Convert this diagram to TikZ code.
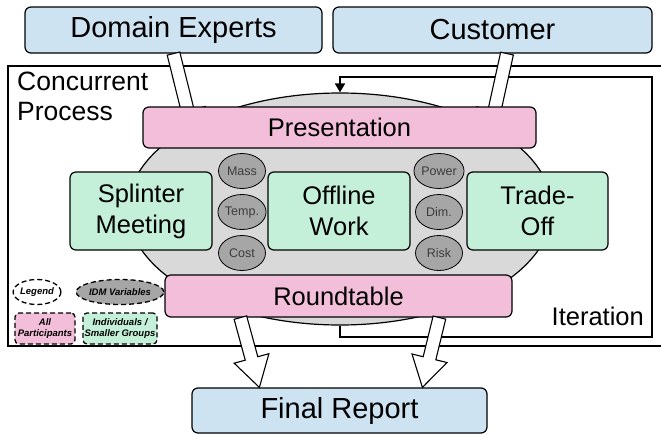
\documentclass[tikz,border=0pt]{standalone}
\usepackage{fontspec}
\setmainfont{Liberation Sans}
\usetikzlibrary{calc,arrows.meta,shapes.geometric}

\definecolor{boxblue}{RGB}{206,227,242}
\definecolor{boxpink}{RGB}{242,190,218}
\definecolor{boxgreen}{RGB}{196,240,218}
\definecolor{poolgray}{RGB}{217,217,217}
\definecolor{vargray}{RGB}{166,166,166}
\definecolor{vartext}{RGB}{60,60,60}

% hollow block arrow from #1 to #2 (tip at #2)
\newcommand\blockarrow[2]{%
  \path ($(#2)!30pt!(#1)$) coordinate (ba-h);
  \draw[blockarr]
    ($(#1)!6.5pt!90:(#2)$) -- ($(ba-h)!6.5pt!90:(#2)$) --
    ($(ba-h)!18pt!90:(#2)$) -- (#2) --
    ($(ba-h)!18pt!-90:(#2)$) -- ($(ba-h)!6.5pt!-90:(#2)$) --
    ($(#1)!6.5pt!-90:(#2)$) -- cycle;}

\tikzset{
  rbox/.style={draw=black, line width=1.2pt, rounded corners=6pt,
    minimum width=#1, inner sep=0pt, align=center},
  bigtxt/.style={font=\fontsize{29}{34}\selectfont},
  midtxt/.style={font=\fontsize{25.5}{31}\selectfont},
  varell/.style={ellipse, draw=black, line width=0.8pt, fill=vargray,
    minimum width=47pt, minimum height=35pt, inner sep=0pt,
    text=vartext, font=\fontsize{12.5}{14}\selectfont},
  legtxt/.style={font=\fontsize{9.5}{11}\selectfont\bfseries\itshape, align=center,
    inner sep=0pt},
  legdash/.style={draw=black, line width=1.3pt, dash pattern=on 5pt off 3pt},
  blockarr/.style={draw=black, line width=1.1pt, fill=white, line join=miter},
  framepen/.style={draw=black, line width=1.4pt},
  looppen/.style={draw=black, line width=2pt, -{Triangle[width=10pt,length=9pt]}},
}

\begin{document}
\begin{tikzpicture}[x=1pt, y=-1pt]
\useasboundingbox (0,0) rectangle (661,434);
\fill[white] (0,0) rectangle (661,434);

% outer frame of the concurrent process (open to the right)
\draw[framepen] (661,66) -- (8,66) -- (8,346) -- (661,346);
\node[anchor=north west, inner sep=0pt, align=left,
      font=\fontsize{26.5}{30}\selectfont] (cp) at (17,72) {Concurrent\\Process};

% central pool
\node[ellipse, draw=black, line width=1.2pt, fill=poolgray,
      minimum width=424pt, minimum height=232pt] (ell) at (340,209) {};

% iteration loop
\draw[looppen] (ell.south) -- ++(0,11) -| (652,77) -| (ell.north);
\node[anchor=base east, inner sep=0pt, font=\fontsize{25.5}{30}\selectfont]
  (it) at (644,325) {Iteration};

% stakeholders and report
\node[rbox=297pt, minimum height=46pt, fill=boxblue, bigtxt] (dom) at (173.5,30) {Domain Experts};
\node[rbox=319pt, minimum height=46pt, fill=boxblue, bigtxt] (cus) at (492.5,30) {Customer};
\node[rbox=295pt, minimum height=45pt, fill=boxblue, bigtxt] (fin) at (339.5,410.5) {Final Report};

% inputs into the presentation
\coordinate (d1) at (dom.south);
\coordinate (c1) at ($(cus.south)+(14.5,0)$);
\coordinate (p1) at (195,140);
\coordinate (p2) at (488,140);
\blockarrow{d1}{p1}
\blockarrow{c1}{p2}

% plenary sessions
\node[rbox=393pt, minimum height=41pt, fill=boxpink, midtxt] (pres) at (339.5,127.5) {Presentation};
\node[rbox=347pt, minimum height=42pt, fill=boxpink, midtxt] (rt) at (338.5,296) {Roundtable};

% outputs to the final report
\coordinate (r1) at ($(rt.south west)+(76,0)$);
\coordinate (r2) at ($(rt.south west)+(275,0)$);
\coordinate (f1) at ($(fin.north west)+(68,0)$);
\coordinate (f2) at ($(fin.north west)+(231,0)$);
\blockarrow{r1}{f1}
\blockarrow{r2}{f2}

% group work
\node[rbox=142pt, minimum height=78pt, fill=boxgreen, midtxt] (spl) at (141,211) {Splinter\\Meeting};
\node[rbox=142pt, minimum height=78pt, fill=boxgreen, midtxt] (off) at (339,211) {Offline\\Work};
\node[rbox=141pt, minimum height=78pt, fill=boxgreen, midtxt] (trd) at (537.5,211) {Trade-\\Off};

% design variables
\node[varell] (mass)  at (242,171) {Mass};
\node[varell] (temp)  at (242,212) {Temp.};
\node[varell] (cost)  at (242,253) {Cost};
\node[varell] (power) at (439,171) {Power};
\node[varell] (dim)   at (439,212) {Dim.};
\node[varell] (risk)  at (439,253) {Risk};

% legend
\node[ellipse, legdash, fill=white, minimum width=44pt, minimum height=25pt, legtxt]
  (lg) at (37,292) {Legend};
\node[ellipse, legdash, fill=vargray, minimum width=77pt, minimum height=25pt, legtxt]
  (lv) at (120,292) {IDM Variables};
\node[legdash, rounded corners=4pt, fill=boxpink, minimum width=60pt, minimum height=31pt, legtxt]
  (la) at (45,328.5) {All\\Participants};
\node[legdash, rounded corners=4pt, fill=boxgreen, minimum width=74pt, minimum height=31pt, legtxt]
  (li) at (120,328.5) {Individuals /\\Smaller Groups};
\end{tikzpicture}
\end{document}
